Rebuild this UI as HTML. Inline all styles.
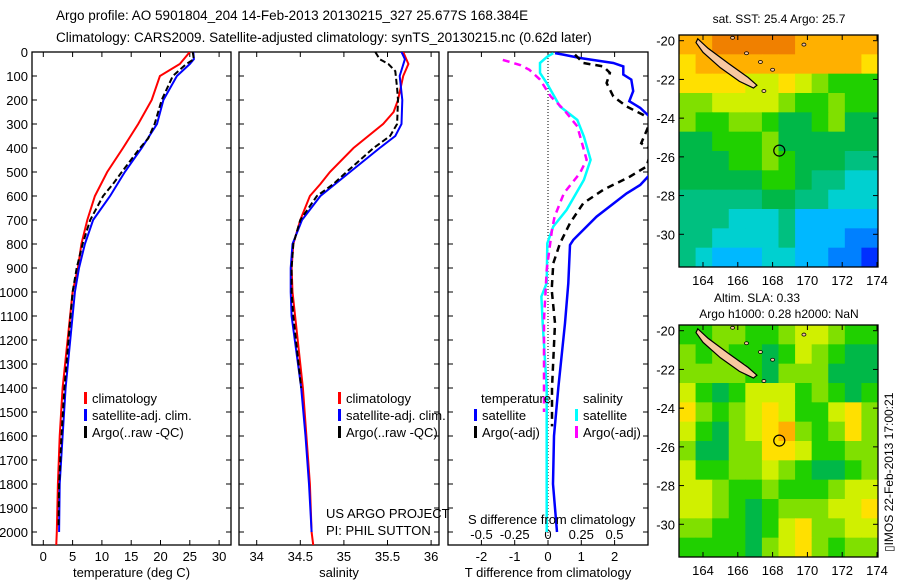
<!DOCTYPE html>
<html><head><meta charset="utf-8"><style>
body{margin:0;background:#fff;}
svg{display:block;font-family:"Liberation Sans",sans-serif;}
text{fill:#000;}
</style></head><body>
<svg id="fig" width="900" height="580" viewBox="0 0 900 580" xmlns="http://www.w3.org/2000/svg">
<defs>
<clipPath id="c1"><rect x="32" y="52" width="199" height="493"/></clipPath>
<clipPath id="c2"><rect x="239" y="52" width="200" height="493"/></clipPath>
<clipPath id="c3"><rect x="448" y="52" width="200" height="493"/></clipPath>
<clipPath id="m1"><rect x="679" y="35" width="199" height="232"/></clipPath>
<clipPath id="m2"><rect x="679" y="325" width="199" height="232"/></clipPath>
</defs>
<text x="56" y="20" font-size="13.5">Argo profile: AO 5901804_204 14-Feb-2013 20130215_327 25.677S 168.384E</text>
<text x="56" y="42" font-size="13.5">Climatology: CARS2009. Satellite-adjusted climatology: synTS_20130215.nc (0.62d later)</text>
<g id="maps"></g>
<g id="plots"></g>
<text x="779" y="23" font-size="12" text-anchor="middle">sat. SST: 25.4 Argo: 25.7</text>
<text x="757" y="302" font-size="12" text-anchor="middle">Altim. SLA: 0.33</text>
<text x="779" y="318" font-size="12" text-anchor="middle">Argo h1000: 0.28 h2000: NaN</text>
<text transform="translate(893,552) rotate(-90)" font-size="12">▯IMOS 22-Feb-2013 17:00:21</text>
</svg>
<script>
// ---- profile data ----
const redTD=[0,50,100,200,300,400,500,600,700,800,900,1000,1400,1600,1800,2000,2060];
const redT=[25.0,23.3,19.9,18.5,16.2,13.6,10.9,8.8,7.5,6.5,5.9,5.0,3.3,2.8,2.5,2.3,2.2];
const blueTD=[0,30,50,100,200,300,400,500,600,700,800,900,1000,1400,1600,1800,2000];
const blueT=[25.6,25.7,25.0,22.8,20.5,19.4,16.8,13.9,11.4,8.5,7.1,6.1,5.4,3.8,3.3,2.8,2.7];
const argoTD=[0,30,50,100,200,300,360,400,500,550,600,700,800,900,1000,1400,1600,1800,1980];
const argoT=[25.5,25.7,24.4,22.1,20.2,19.0,17.9,16.5,13.4,11.9,10.2,8.0,6.7,5.7,5.0,3.6,3.1,2.7,2.6];

const redSD=[0,50,100,200,250,300,400,500,550,600,700,800,900,1000,1400,1600,1800,2000,2060];
const redS=[35.68,35.74,35.68,35.62,35.57,35.45,35.11,34.84,34.73,34.61,34.50,34.42,34.40,34.41,34.53,34.57,34.61,34.63,34.65];
const blueSD=[0,30,100,200,300,350,400,500,600,700,800,900,1000,1100,1400,1600,1800,2000];
const blueS=[35.66,35.70,35.64,35.67,35.66,35.59,35.41,35.07,34.73,34.52,34.41,34.39,34.39,34.40,34.51,34.56,34.60,34.63];
const argoSD=[0,30,50,80,150,200,300,350,400,500,550,600,700,800,900,1000,1100,1400];
const argoS=[35.36,35.41,35.51,35.59,35.61,35.62,35.61,35.53,35.34,35.03,34.88,34.69,34.50,34.42,34.40,34.40,34.42,34.51];

const dTsatD=[5,11,25,46,60,94,115,163,205,233,276,367,505,554,589,686,783,804,964,1130,1400,1600,1800,2000];
const dTsat=[0.21,0.46,0.96,1.96,2.26,2.26,2.5,2.56,2.44,2.77,3.1,3.1,3.1,2.77,2.36,1.46,0.76,0.66,0.61,0.51,0.31,0.18,0.15,0.27];
const dTargoD=[11,46,60,87,129,185,227,262,283,380,408,477,519,574,630,713,797,880,991,1130,1400,1560];
const dTargo=[0.81,1.06,1.66,1.86,1.76,1.96,2.36,2.86,3.1,2.8,3.1,2.96,2.46,1.66,1.06,0.66,0.36,0.16,0.11,0.21,0.12,0.12];
const dSsatD=[5,19,46,87,129,227,283,352,449,533,658,727,797,963,1019,1130,1400,2000];
const dSsat=[0.04,-0.005,-0.06,-0.06,-0.01,0.09,0.22,0.27,0.32,0.27,0.14,0.04,-0.005,-0.01,-0.05,-0.04,-0.01,-0.01];
const dSargoD=[33,54,74,115,185,241,310,408,449,505,588,686,741,908,1019,1116,1500];
const dSargo=[-0.34,-0.21,-0.14,-0.06,0.02,0.12,0.22,0.27,0.29,0.24,0.12,0.05,0.03,-0.01,-0.02,-0.03,-0.03];

const depthTicks=[0,100,200,300,400,500,600,700,800,900,1000,1100,1200,1300,1400,1500,1600,1700,1800,1900,2000];
const tempTicks=[0,5,10,15,20,25,30];
const salTicks=[34,34.5,35,35.5,36];
const salLabels=["34","34.5","35","35.5","36"];
const dtTicks=[-2,-1,0,1,2];
const dsTicks=[-0.5,-0.25,0,0.25,0.5];
const dsLabels=["-0.5","-0.25","0","0.25","0.5"];

// ---- map data (colour level per ~1deg cell, rows from -20 south) ----
const sstGrid=[
[10,10,11,11,11,11,11,10,10,10,10,10],
[9,10,10,10,10,10,10,10,10,10,10,9],
[9,9,9,9,8,8,9,8,7,6,6,6],
[7,7,8,8,8,8,7,6,6,7,6,6],
[7,6,6,7,7,6,5,5,6,7,5,5],
[5,5,6,6,6,7,5,5,5,5,5,5],
[5,5,5,6,6,7,6,5,5,5,4,4],
[5,5,5,5,5,6,6,5,4,4,3,3],
[4,4,4,4,4,5,5,4,4,3,3,3],
[4,4,4,3,3,3,4,2,2,2,2,2],
[4,4,3,3,3,3,4,2,2,2,1,1],
[4,3,2,2,2,3,3,2,2,1,1,0]];
const slaGrid=[
[6,6,7,7,6,6,7,8,8,7,6,6],
[7,6,7,6,6,5,6,8,7,6,5,5],
[7,7,7,7,6,5,7,7,7,5,5,5],
[8,6,5,6,8,8,8,6,7,6,5,6],
[9,7,6,7,8,9,8,6,6,8,9,7],
[8,6,5,7,8,9,10,7,6,7,9,7],
[7,5,5,7,7,9,9,8,6,6,7,7],
[8,6,6,7,7,8,7,6,5,5,6,7],
[8,8,7,6,6,7,6,6,6,7,8,8],
[8,8,7,6,5,6,7,7,7,8,8,9],
[7,7,6,6,5,6,8,9,7,7,8,8],
[6,6,6,6,5,7,8,9,7,6,7,7]];
const lonTicks=[164,166,168,170,172,174];
const latTicks=[-20,-22,-24,-26,-28,-30];
const islandLon=[163.7,164.3,165.5,166.6,167.1,166.9,166.1,165.0,164.0,163.6];
const islandLat=[-19.9,-20.4,-21.2,-21.9,-22.3,-22.45,-22.1,-21.4,-20.6,-20.1];
const argoLon=168.384, argoLat=-25.677;

const NS='http://www.w3.org/2000/svg';
const palette=['#0030ff','#0080ff','#00b8ff','#00d0d0','#00c080','#00b848','#20d000','#80e000','#d0f000','#ffe000','#ffb000','#f08000'];
function mk(tag,attrs,parent){const e=document.createElementNS(NS,tag);for(const k in attrs)e.setAttribute(k,attrs[k]);parent.appendChild(e);return e;}
const yD=d=>52+d*0.24;
const xT=t=>43.3+t*5.86;
const xS=s=>256.7+(s-34)*87.2;
const xDT=v=>548+v*33.3;
const xDS=v=>548+v*133;

const plots=document.getElementById('plots');
function line(xs,ds,fx,color,dash,clip,name,w){
  const pts=xs.map((v,i)=>fx(v).toFixed(1)+','+yD(ds[i]).toFixed(1)).join(' ');
  const p=mk('polyline',{points:pts,fill:'none',stroke:color,'stroke-width':w||2,'clip-path':'url(#'+clip+')'},plots);
  if(dash)p.setAttribute('stroke-dasharray',dash);
  
  
}
function panel(x0,x1,name,xticks,fx,labels,xlabel,leftLabels){
  const g=mk('g',{},plots);
  
  
  mk('rect',{x:x0,y:52,width:x1-x0,height:493,fill:'none',stroke:'#000','stroke-width':1.3},g);
  depthTicks.forEach(d=>{
    const y=yD(d);
    mk('line',{x1:x0,x2:x0+5,y1:y,y2:y,stroke:'#000'},g);
    mk('line',{x1:x1-5,x2:x1,y1:y,y2:y,stroke:'#000'},g);
    if(leftLabels){const t=mk('text',{x:28,y:y+5,'font-size':13,'text-anchor':'end'},g);t.textContent=d;
      }
  });
  xticks.forEach((v,i)=>{
    const x=fx(v);
    mk('line',{x1:x,x2:x,y1:545,y2:540,stroke:'#000'},g);
    mk('line',{x1:x,x2:x,y1:52,y2:57,stroke:'#000'},g);
    const t=mk('text',{x:x,y:561,'font-size':13,'text-anchor':'middle'},g);t.textContent=labels[i];
    
  });
  const t=mk('text',{x:(x0+x1)/2,y:577,'font-size':13,'text-anchor':'middle'},g);t.textContent=xlabel;
  
}
panel(32,231,'temperature-panel',tempTicks,xT,tempTicks.map(String),'temperature (deg C)',true);
panel(239,439,'salinity-panel',salTicks,xS,salLabels,'salinity',false);
panel(448,648,'difference-panel',dtTicks,xDT,dtTicks.map(String),'T difference from climatology',false);
mk('line',{x1:548,x2:548,y1:52,y2:545,stroke:'#000','stroke-dasharray':'1,2'},plots);
dsTicks.forEach((v,i)=>{const t=mk('text',{x:xDS(v),y:539,'font-size':13,'text-anchor':'middle'},plots);t.textContent=dsLabels[i];
  });

line(redT,redTD,xT,'#f00',null,'c1','temp-climatology-line');
line(blueT,blueTD,xT,'#00f',null,'c1','temp-satellite-line');
line(argoT,argoTD,xT,'#000','6,3','c1','temp-argo-line');
line(redS,redSD,xS,'#f00',null,'c2','sal-climatology-line');
line(blueS,blueSD,xS,'#00f',null,'c2','sal-satellite-line');
line(argoS,argoSD,xS,'#000','6,3','c2','sal-argo-line');
line(dTsat,dTsatD,xDT,'#00f',null,'c3','tdiff-satellite-line',2.5);
line(dTargo,dTargoD,xDT,'#000','7,5','c3','tdiff-argo-line',2.5);
line(dSsat,dSsatD,xDS,'#0ff',null,'c3','sdiff-satellite-line',2.5);
line(dSargo,dSargoD,xDS,'#f0f','7,5','c3','sdiff-argo-line',2.5);

function legendEntry(x,y,color,label){
  const g=mk('g',{},plots);
  
  
  mk('rect',{x:x,y:y-11,width:3,height:12,fill:color},g);
  const t=mk('text',{x:x+8,y:y,'font-size':13},g);t.textContent=label;
}
legendEntry(84,403,'#f00','climatology');legendEntry(84,420,'#00f','satellite-adj. clim.');legendEntry(84,437,'#000','Argo(..raw -QC)');
legendEntry(338,403,'#f00','climatology');legendEntry(338,420,'#00f','satellite-adj. clim.');legendEntry(338,437,'#000','Argo(..raw -QC)');
const tl=mk('text',{x:481,y:403,'font-size':13},plots);tl.textContent='temperature';

const sl=mk('text',{x:583,y:403,'font-size':13},plots);sl.textContent='salinity';

legendEntry(474,420,'#00f','satellite');legendEntry(474,437,'#000','Argo(-adj)');
legendEntry(575,420,'#0ff','satellite');legendEntry(575,437,'#f0f','Argo(-adj)');
[['US ARGO PROJECT',326,518],['PI: PHIL SUTTON',326,535],['S difference from climatology',468,524]].forEach(a=>{
  const t=mk('text',{x:a[1],y:a[2],'font-size':13},plots);t.textContent=a[0];
  });

// ---- maps ----
const maps=document.getElementById('maps');
function drawMap(grid,top,clip,name){
  const lonX=l=>703+(l-164)*17.4;
  const latY=p=>top+5.7+(-20-p)*19.36;
  const g=mk('g',{'clip-path':'url(#'+clip+')'},maps);
  
  
  const cw=199/12,ch=232/12;
  grid.forEach((row,r)=>row.forEach((v,c)=>{
    const cell=mk('rect',{x:679+c*cw,y:top+r*ch,width:cw+0.6,height:ch+0.6,fill:palette[v]},g);
    
  }));
  const pts=islandLon.map((l,i)=>lonX(l).toFixed(1)+','+latY(islandLat[i]).toFixed(1)).join(' ');
  const isl=mk('polygon',{points:pts,fill:'#f8c8a0',stroke:'#000','stroke-width':1.2},g);
  
  
  [[166.5,-20.65],[167.3,-21.1],[168.0,-21.5],[165.7,-19.85],[169.8,-20.2],[167.5,-22.6]].forEach(p=>{
    mk('ellipse',{cx:lonX(p[0]),cy:latY(p[1]),rx:2,ry:1.5,fill:'#f8c8a0',stroke:'#000','stroke-width':0.8},g);
  });
  const m=mk('circle',{cx:lonX(argoLon),cy:latY(argoLat),r:5.5,fill:'none',stroke:'#000','stroke-width':1.2},maps);
  
  
  mk('rect',{x:679,y:top,width:199,height:232,fill:'none',stroke:'#000','stroke-width':1.3},maps);
  lonTicks.forEach(l=>{const x=lonX(l);
    mk('line',{x1:x,x2:x,y1:top+232,y2:top+227,stroke:'#000'},maps);
    mk('line',{x1:x,x2:x,y1:top,y2:top+5,stroke:'#000'},maps);
    const t=mk('text',{x:x,y:top+250,'font-size':13,'text-anchor':'middle'},maps);t.textContent=l;
    });
  latTicks.forEach(p=>{const y=latY(p);
    mk('line',{x1:679,x2:684,y1:y,y2:y,stroke:'#000'},maps);
    mk('line',{x1:873,x2:878,y1:y,y2:y,stroke:'#000'},maps);
    const t=mk('text',{x:675,y:y+5,'font-size':13,'text-anchor':'end'},maps);t.textContent=p;
    });
}
drawMap(sstGrid,35,'m1','sst-map');
drawMap(slaGrid,325,'m2','sla-map');
</script>
</body></html>
